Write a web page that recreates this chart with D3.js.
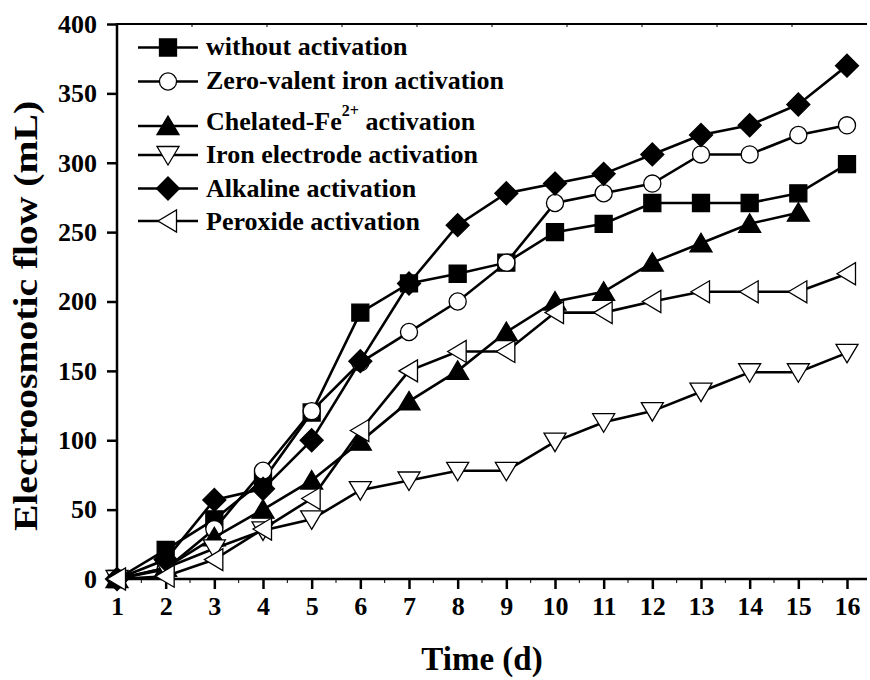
<!DOCTYPE html>
<html>
<head>
<meta charset="utf-8">
<script src="https://d3js.org/d3.v7.min.js"></script>
<style>
  body { margin: 0; background: #fff; }
  text { font-family: "Liberation Serif", "Times New Roman", serif; font-weight: bold; fill: #000; }
</style>
</head>
<body>
<div id="chart"></div>
<script>
var width = 870, height = 680;
var margin = {left: 117, right: 3, top: 24, bottom: 101};

// data (x = day)
var days = d3.range(1, 17);
var withoutAct = [0, 21, 43, 71, 120, 192, 213, 220, 228, 250, 256, 271, 271, 271, 278, 299];
var zeroValent = [0, 7, 36, 78, 121, 156, 178, 200, 228, 271, 278, 285, 306, 306, 320, 327];
var chelated   = [0, 8, 30, 50, 71, 99, 128, 150, 178, 200, 207, 228, 242, 256, 264];
var ironElec   = [0, 8, 22, 35, 43, 64, 71, 78, 78, 99, 113, 121, 135, 149, 149, 163];
var alkaline   = [0, 14, 57, 65, 100, 157, 213, 255, 278, 285, 292, 306, 320, 327, 342, 370];
var peroxide   = [0, 2, 14, 36, 58, 107, 150, 164, 164, 192, 192, 200, 207, 207, 207, 220];

var yTicks = [0, 50, 100, 150, 200, 250, 300, 350, 400];

var series = [
  {name: "without activation", values: withoutAct, symbol: "square", fill: "#000"},
  {name: "Zero-valent iron activation", values: zeroValent, symbol: "circle", fill: "#fff"},
  {name: "Chelated-Fe", sup: "2+", tail: " activation", values: chelated, symbol: "triUp", fill: "#000"},
  {name: "Iron electrode activation", values: ironElec, symbol: "triDown", fill: "#fff"},
  {name: "Alkaline activation", values: alkaline, symbol: "diamond", fill: "#000"},
  {name: "Peroxide activation", values: peroxide, symbol: "triLeft", fill: "#fff"}
];

var svg = d3.select("#chart").append("svg")
  .attr("width", width).attr("height", height);

var x = d3.scaleLinear().domain([1, 16]).range([margin.left, 847]);
var y = d3.scaleLinear().domain([0, 400]).range([height - margin.bottom, margin.top]);
var x0 = margin.left, x1 = width - margin.right;
var yb = y(0), yt = y(400);

function symPath(type) {
  if (type === "square") return "M-8.5,-8.5H8.5V8.5H-8.5Z";
  if (type === "circle") return d3.symbol(d3.symbolCircle, 230)();
  if (type === "diamond") return "M0,-11.5L11.5,0L0,11.5L-11.5,0Z";
  if (type === "triUp") return "M0,-10L11,8.5L-11,8.5Z";
  if (type === "triDown") return "M0,10L11,-8.5L-11,-8.5Z";
  if (type === "triLeft") return "M-10,0L8.5,-11L8.5,11Z";
}

// frame
svg.append("line").attr("x1", x0).attr("x2", x1).attr("y1", yt).attr("y2", yt)
  .attr("stroke", "#000").attr("stroke-width", 2);

// top axis minor ticks
svg.append("g").selectAll("line").data(d3.range(1, 10)).enter().append("line")
  .attr("x1", function(d){ return x0 + d * 75; }).attr("x2", function(d){ return x0 + d * 75; })
  .attr("y1", yt).attr("y2", yt + 3).attr("stroke", "#000").attr("stroke-width", 1);

// x axis
var xAxis = d3.axisBottom(x).tickValues(days).tickSize(10).tickPadding(8).tickFormat(d3.format("d"));
var gx = svg.append("g").attr("transform", "translate(0," + yb + ")").call(xAxis);
gx.select(".domain").remove();
gx.selectAll(".tick line").attr("stroke-width", 2.5);
gx.selectAll(".tick text").style("font-size", "26px").style("font-family", "Liberation Serif").style("font-weight", "bold");

svg.append("g").selectAll("line").data(d3.range(1.5, 17, 1)).enter().append("line")
  .attr("x1", function(d){ return x(d); }).attr("x2", function(d){ return x(d); })
  .attr("y1", yb).attr("y2", yb + 4).attr("stroke", "#000").attr("stroke-width", 1);

svg.append("line").attr("x1", x0 - 1).attr("x2", x1).attr("y1", yb).attr("y2", yb)
  .attr("stroke", "#000").attr("stroke-width", 2.5);

// y axis
var yAxis = d3.axisLeft(y).tickValues(yTicks).tickSize(10).tickPadding(10);
var gy = svg.append("g").attr("transform", "translate(" + x0 + ",0)").call(yAxis);
gy.select(".domain").remove();
gy.selectAll(".tick line").attr("stroke-width", 2.5);
gy.selectAll(".tick text").style("font-size", "26px").style("font-family", "Liberation Serif").style("font-weight", "bold");
svg.append("line").attr("x1", x0).attr("x2", x0).attr("y1", yt - 1).attr("y2", yb + 1)
  .attr("stroke", "#000").attr("stroke-width", 2.5);

// titles
svg.append("text").attr("x", (x0 + 847) / 2).attr("y", 670)
  .attr("text-anchor", "middle").style("font-size", "33px").text("Time (d)");
svg.append("text").attr("transform", "translate(37,316) rotate(-90) scale(1.2,1)")
  .attr("text-anchor", "middle").style("font-size", "33px").text("Electroosmotic flow (mL)");

// series
var line = d3.line().x(function(d, i){ return x(days[i]); }).y(function(d){ return y(d); });
series.forEach(function(s) {
  var g = svg.append("g");
  g.append("path").datum(s.values).attr("d", line)
    .attr("fill", "none").attr("stroke", "#000").attr("stroke-width", 2.6);
  g.selectAll("path.pt").data(s.values).enter().append("path").attr("class", "pt")
    .attr("transform", function(d, i){ return "translate(" + x(days[i]) + "," + y(d) + ")"; })
    .attr("d", symPath(s.symbol))
    .attr("fill", s.fill).attr("stroke", "#000").attr("stroke-width", 1.3);
});

// legend
var legLineY = [47.5, 81.5, 126, 155, 188.5, 221];
var legTextY = [55, 89, 130, 163, 197, 230];
var leg = svg.append("g");
series.forEach(function(s, i) {
  leg.append("line").attr("x1", 138).attr("x2", 198).attr("y1", legLineY[i]).attr("y2", legLineY[i])
    .attr("stroke", "#000").attr("stroke-width", 2.6);
  leg.append("path").attr("transform", "translate(168," + legLineY[i] + ")")
    .attr("d", symPath(s.symbol)).attr("fill", s.fill).attr("stroke", "#000").attr("stroke-width", 1.3);
  var t = leg.append("text").attr("x", 206).attr("y", legTextY[i]).style("font-size", "26px");
  t.append("tspan").text(s.name);
  if (s.sup) {
    t.append("tspan").attr("dy", -14).style("font-size", "16px").text(s.sup);
    t.append("tspan").attr("dy", 14).text(s.tail);
  }
});
</script>
</body>
</html>
